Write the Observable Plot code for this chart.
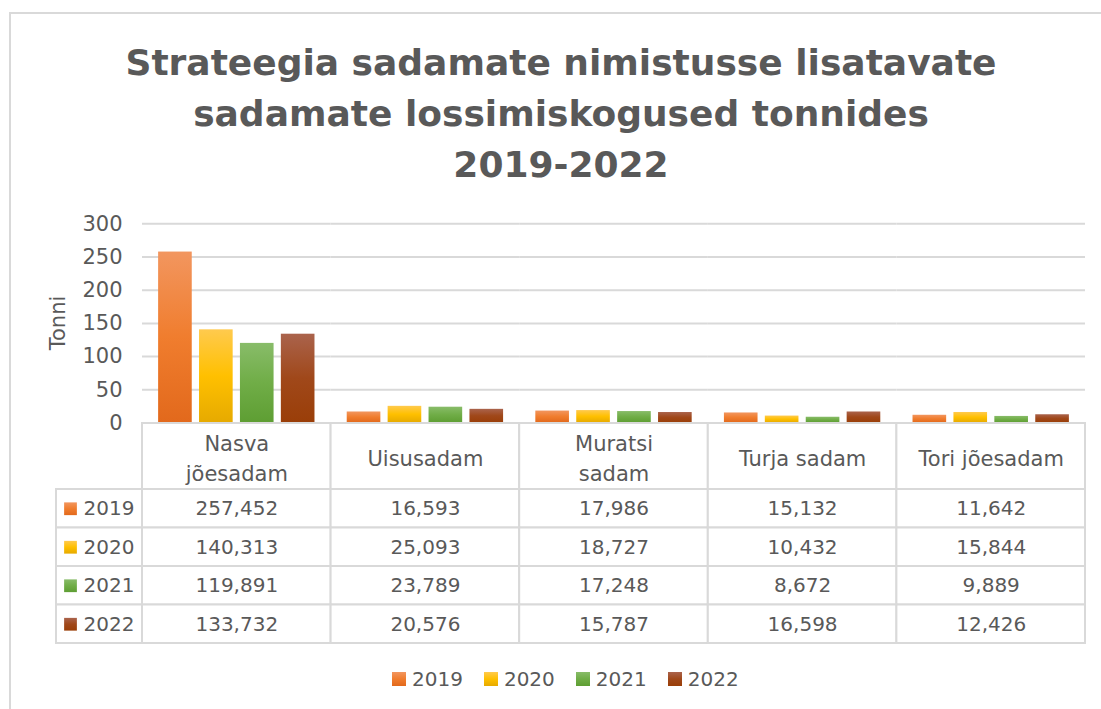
<!DOCTYPE html>
<html><head><meta charset="utf-8">
<script src="https://cdn.jsdelivr.net/npm/d3@7"></script>
<script src="https://cdn.jsdelivr.net/npm/@observablehq/plot@0.6"></script>
<style>
body{margin:0;background:#fff;}
#root{position:relative;width:1101px;height:709px;overflow:hidden;background:#fff;font-family:"DejaVu Sans",sans-serif;color:#595959;}
#frame{position:absolute;left:9px;top:12px;width:1200px;height:800px;border:2px solid #D9D9D9;box-sizing:border-box;}
.abs{position:absolute;}
#title{left:0;top:37px;width:1122px;text-align:center;font-weight:bold;font-size:36px;line-height:51px;}
#ylabel{left:58px;top:323px;font-size:21px;transform:translate(-50%,-50%) rotate(-90deg);white-space:nowrap;}
#legend{left:392px;top:667px;display:flex;align-items:center;font-size:20px;}
#legend .item{display:flex;align-items:center;margin-right:21px;}
#legend .sw{width:14px;height:14px;margin-right:6px;}
</style></head><body>
<div id="root"><div id="frame"></div></div>
<script>
const ports = ["Nasva jõesadam","Uisusadam","Muratsi sadam","Turja sadam","Tori jõesadam"];
const portLabels = ["Nasva\njõesadam","Uisusadam","Muratsi\nsadam","Turja sadam","Tori jõesadam"];
const years = ["2019","2020","2021","2022"];
const v2019 = [257.452, 16.593, 17.986, 15.132, 11.642];
const v2020 = [140.313, 25.093, 18.727, 10.432, 15.844];
const v2021 = [119.891, 23.789, 17.248, 8.672, 9.889];
const v2022 = [133.732, 20.576, 15.787, 16.598, 12.426];
const yTicks = [0, 50, 100, 150, 200, 250, 300];
const titleLines = ["Strateegia sadamate nimistusse lisatavate","sadamate lossimiskogused tonnides","2019-2022"];
const yLabel = "Tonni";
const gradStops = {
  "2019": ["#F2965F", "#F07D2E", "#E2691C"],
  "2020": ["#FFCA4E", "#FFC000", "#E6AA00"],
  "2021": ["#88BC69", "#70AD47", "#5E9E33"],
  "2022": ["#AA634C", "#A0481A", "#9A3E08"]
};

const series = [v2019, v2020, v2021, v2022];
const data = years.flatMap((y, i) => ports.map((p, j) => ({port: p, year: y, value: series[i][j]})));
const fmt = d3.formatLocale({decimal: ",", thousands: " ", grouping: [3], currency: ["", ""]}).format(".3f");
const gradUrl = y => `url(#grad${y})`;
const grid = "#D9D9D9";
const baseStyle = {fontFamily: "DejaVu Sans", fontSize: "21px", color: "#595959", background: "transparent", overflow: "visible"};

const root = document.getElementById("root");
function place(el, top, left = 0) {
  el.style.position = "absolute"; el.style.top = top + "px"; el.style.left = left + "px";
  root.appendChild(el);
}

// Chart
const chart = Plot.plot({
  width: 1101, height: 440,
  marginTop: 223.3, marginBottom: 17.5, marginLeft: 142, marginRight: 16,
  style: baseStyle,
  fx: {domain: ports, padding: 0, round: false, axis: null},
  x: {domain: years, paddingInner: 0.178, paddingOuter: 0.394, round: false, axis: null},
  y: {domain: [0, 300], ticks: 6, tickSize: 0, tickPadding: 20, label: null},
  color: {domain: years, range: years.map(gradUrl)},
  marks: [
    Plot.ruleY(yTicks, {stroke: grid, strokeWidth: 2}),
    Plot.barY(data, {fx: "port", x: "year", y: "value", fill: "year"})
  ]
});
const defs = d3.select(chart).insert("defs", ":first-child");
years.forEach(y => {
  const lg = defs.append("linearGradient").attr("id", "grad" + y)
    .attr("x1", 0).attr("y1", 0).attr("x2", 0).attr("y2", 1);
  gradStops[y].forEach((c, i) => lg.append("stop").attr("offset", [0, 0.5, 1][i]).attr("stop-color", c));
});
place(chart, 0);

// Table header
const header = Plot.plot({
  width: 1101, height: 70,
  marginTop: 2, marginBottom: 2, marginLeft: 142, marginRight: 16,
  style: baseStyle,
  x: {domain: ports, padding: 0, round: false, axis: null},
  marks: [
    Plot.cell(ports, {x: d => d, fill: "white", stroke: grid, strokeWidth: 2}),
    Plot.text(ports, {x: d => d, text: (d, i) => portLabels[i], lineHeight: 1.4, fontSize: 21})
  ]
});
place(header, 421);

// Table rows
const table = Plot.plot({
  width: 1101, height: 160,
  marginTop: 2, marginBottom: 4, marginLeft: 56, marginRight: 16,
  style: baseStyle,
  x: {domain: ports, range: [142, 1085], padding: 0, round: false, axis: null},
  y: {domain: years, padding: 0, round: false, axis: null},
  color: {domain: years, range: years.map(gradUrl)},
  marks: [
    Plot.cell(years, {y: d => d, fill: "white", stroke: grid, strokeWidth: 2}),
    Plot.cell(data, {x: "port", y: "year", fill: "white", stroke: grid, strokeWidth: 2}),
    Plot.text(data, {x: "port", y: "year", text: d => fmt(d.value), fontSize: 20}),
    Plot.dot(years, {y: d => d, frameAnchor: "left", dx: 14, symbol: "square", r: 7.2, fill: d => d}),
    Plot.text(years, {y: d => d, text: d => d, frameAnchor: "left", dx: 27, textAnchor: "start", fontSize: 20})
  ]
});
place(table, 487);

// Title
const title = document.createElement("div");
title.id = "title"; title.className = "abs";
title.innerHTML = titleLines.map(t => `<div>${t}</div>`).join("");
root.appendChild(title);

// Y label
const yl = document.createElement("div");
yl.id = "ylabel"; yl.className = "abs"; yl.textContent = yLabel;
root.appendChild(yl);

// Legend
const leg = document.createElement("div");
leg.id = "legend"; leg.className = "abs";
years.forEach(y => {
  const it = document.createElement("div"); it.className = "item";
  const sw = document.createElement("div"); sw.className = "sw";
  const s = gradStops[y];
  sw.style.background = `linear-gradient(${s[0]}, ${s[1]} 50%, ${s[2]})`;
  const t = document.createElement("span"); t.textContent = y;
  it.appendChild(sw); it.appendChild(t); leg.appendChild(it);
});
root.appendChild(leg);
</script>
</body></html>
